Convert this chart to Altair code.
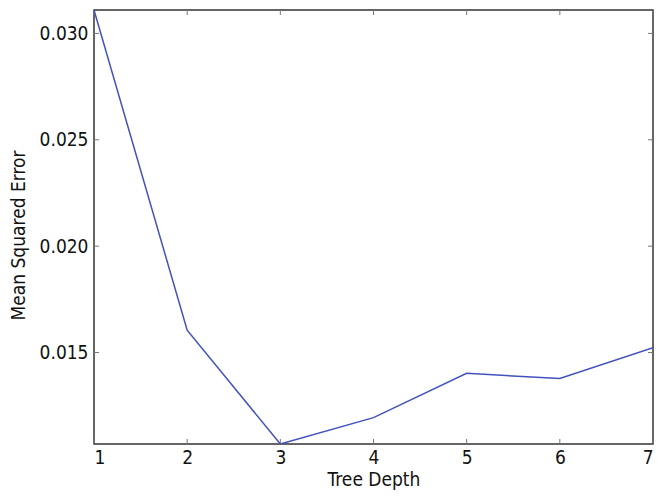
import altair as alt
import pandas as pd

depth = [1, 2, 3, 4, 5, 6, 7]
mse = [0.0311, 0.01605, 0.0107, 0.01194, 0.01402, 0.01378, 0.01523]

x_ticks = [1, 2, 3, 4, 5, 6, 7]
y_ticks = [0.015, 0.020, 0.025, 0.030]

FONT = "Liberation Sans Narrow, DejaVu Sans Condensed, Roboto Condensed, sans-serif"
W, H = 559, 434
TICK = 5
TICK_COLOR = "#777777"

df = pd.DataFrame({"depth": depth, "mse": mse})
dx = pd.DataFrame({"depth": x_ticks})
dy = pd.DataFrame({"mse": y_ticks})

xscale = alt.Scale(domain=[1, 7], nice=False, zero=False)
yscale = alt.Scale(domain=[0.0107, 0.0311], nice=False, zero=False)

xaxis = alt.Axis(values=x_ticks, format="d", title="Tree Depth", ticks=False, domain=False,
                 grid=False, labelPadding=4, titlePadding=3)
yaxis = alt.Axis(values=y_ticks, format=".3f", title="Mean Squared Error", ticks=False,
                 domain=False, grid=False, labelPadding=6, titlePadding=11, titleY=H / 2 + 8)

line = alt.Chart(df).mark_line(color="#4152bd", strokeWidth=1.5, clip=True).encode(
    x=alt.X("depth:Q", scale=xscale, axis=xaxis),
    y=alt.Y("mse:Q", scale=yscale, axis=yaxis),
)

bottom = alt.Chart(dx).mark_rule(color=TICK_COLOR, strokeWidth=1).encode(
    x=alt.X("depth:Q", scale=xscale, axis=xaxis), y=alt.value(H), y2=alt.value(H - TICK))
top = alt.Chart(dx).mark_rule(color=TICK_COLOR, strokeWidth=1).encode(
    x=alt.X("depth:Q", scale=xscale, axis=xaxis), y=alt.value(0), y2=alt.value(TICK))
left = alt.Chart(dy).mark_rule(color=TICK_COLOR, strokeWidth=1).encode(
    y=alt.Y("mse:Q", scale=yscale, axis=yaxis), x=alt.value(0), x2=alt.value(TICK))
right = alt.Chart(dy).mark_rule(color=TICK_COLOR, strokeWidth=1).encode(
    y=alt.Y("mse:Q", scale=yscale, axis=yaxis), x=alt.value(W), x2=alt.value(W - TICK))

chart = alt.layer(bottom, top, left, right, line).properties(
    width=W, height=H,
    autosize=alt.AutoSizeParams(type="none"),
    padding={"left": 86, "top": 2, "right": 1, "bottom": 48},
).configure_view(
    stroke="#333333", strokeWidth=1.5
).configure_axis(
    labelFont=FONT, titleFont=FONT, labelFontSize=19, titleFontSize=19,
    titleFontWeight="normal", labelColor="#111111", titleColor="#111111",
)

chart.save("out.html", embed_options={"renderer": "svg", "actions": False})
